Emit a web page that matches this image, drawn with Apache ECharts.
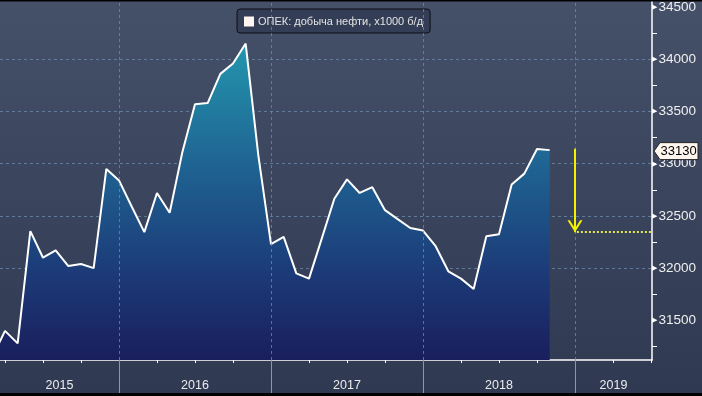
<!DOCTYPE html>
<html><head><meta charset="utf-8">
<script src="https://cdn.jsdelivr.net/npm/echarts@6/dist/echarts.min.js"></script>
<style>html,body{margin:0;padding:0;background:#000}#c{width:702px;height:396px}</style>
</head><body><div id="c"></div>
<script>
// ---- data ----
const months = ['2015-03','2015-04','2015-05','2015-06','2015-07','2015-08','2015-09','2015-10','2015-11','2015-12',
  '2016-01','2016-02','2016-03','2016-04','2016-05','2016-06','2016-07','2016-08','2016-09','2016-10','2016-11','2016-12',
  '2017-01','2017-02','2017-03','2017-04','2017-05','2017-06','2017-07','2017-08','2017-09','2017-10','2017-11','2017-12',
  '2018-01','2018-02','2018-03','2018-04','2018-05','2018-06','2018-07','2018-08','2018-09','2018-10','2018-11'];
const values = [31150,31400,31280,32355,32100,32170,32020,32040,32000,32950,
  32840,32590,32345,32720,32530,33110,33570,33580,33860,33960,34150,33080,
  32230,32300,31950,31900,32280,32665,32850,32720,32775,32555,32470,32385,
  32360,32210,31970,31900,31800,32305,32325,32800,32905,33140,33130];
const yTicks = [31500,32000,32500,33000,33500,34000,34500];
const yMinorTicks = [31250,31750,32250,32750,33250,33750,34250];
const years = ['2015','2016','2017','2018','2019'];
const seriesName = 'ОПЕК: добыча нефти, x1000 б/д';
const arrowFrom = 33143;
const arrowTo = 32345;

// ---- helpers ----
const baseYear = 2015;
const mi = s => { const p = s.split('-').map(Number); return (p[0]-baseYear)*12 + p[1]-1; };
const xMin = 2.605, xMax = 54.08;
const yMin = 31121, yMax = 34557;
const yearBounds = years.slice(1).map((y,i)=>(i+1)*12);
const yearMids = years.map((y,i)=>(Math.max(i*12,xMin)+Math.min(i*12+12,xMax))/2);
const quarterTicks = []; for (let q=3;q<=xMax;q+=3) quarterTicks.push(q);
const FONT = 'Liberation Sans, Arial, sans-serif';

const chart = echarts.init(document.getElementById('c'), null, {renderer:'canvas'});
const dashColor = 'rgba(110,140,175,0.75)';

chart.setOption({
  animation: false,
  backgroundColor: new echarts.graphic.LinearGradient(0,0,0,1,[{offset:0,color:'#455069'},{offset:1,color:'#2f3951'}]),
  textStyle: {fontFamily: FONT},
  grid: {left:0, right:50, top:0, bottom:36, containLabel:false},
  legend: {
    left: 237, top: 9,
    backgroundColor: '#333d55', borderColor: '#0d0f14', borderWidth: 1, borderRadius: 3,
    padding: [7,7,6,7],
    itemWidth: 10, itemHeight: 10, itemGap: 5, icon: 'rect',
    itemStyle: {color: '#fff5f0'},
    textStyle: {color: '#e4e4e4', fontSize: 11, fontFamily: FONT, padding:[0,0,0,-1]},
    data: [seriesName]
  },
  xAxis: [{
    type: 'value', min: xMin, max: xMax, position: 'bottom',
    axisLine: {show: true, lineStyle: {color: '#ffffff', width: 1.5}},
    axisTick: {show: true, customValues: quarterTicks, length: 3, lineStyle: {color: '#ffffff', width: 1}},
    axisLabel: {show: true, customValues: yearMids, margin: 19, color: '#ececec', fontSize: 12.5, fontFamily: FONT,
      formatter: v => years[Math.floor(v/12)]},
    splitLine: {show: false}
  },{
    type: 'value', min: xMin, max: xMax, position: 'bottom',
    axisLine: {show: false},
    axisTick: {show: true, customValues: yearBounds, length: 36, lineStyle: {color: '#8d96aa', width: 1}},
    axisLabel: {show: false},
    splitLine: {show: false}
  }],
  yAxis: [{
    type: 'value', position: 'right', min: yMin, max: yMax, z: 3,
    axisLine: {show: true, lineStyle: {color: '#ffffff', width: 1.5}},
    axisTick: {show: true, customValues: yTicks, length: 4, lineStyle: {color: '#ffffff', width: 1}},
    axisLabel: {show: true, customValues: yTicks, margin: 0, color: '#f0f0f0', fontFamily: FONT,
      formatter: v => '{t|▶}{v|' + v + '}',
      rich: {t: {fontSize: 7, color: '#ffffff', fontFamily: 'DejaVu Sans'}, v: {fontSize: 13.5, color: '#f0f0f0', fontFamily: FONT, padding:[0,0,0,1]}}},
    splitLine: {show: true, showMinLine: false, showMaxLine: false, lineStyle: {color: dashColor, type: [3,3], width: 1}}
  },{
    type: 'value', position: 'right', offset: 0, min: yMin, max: yMax, z: 3,
    axisLine: {show: false},
    axisTick: {show: true, customValues: yMinorTicks, length: 5, lineStyle: {color: '#ffffff', width: 1}},
    axisLabel: {show: false},
    splitLine: {show: false}
  }],
  series: [{
    name: seriesName, type: 'line', yAxisIndex: 0, xAxisIndex: 0,
    data: values.map((v,i)=>[mi(months[i]), v]),
    symbol: 'none', showSymbol: false,
    itemStyle: {color: '#ffffff'},
    lineStyle: {color: '#ffffff', width: 2},
    areaStyle: {opacity: 1, color: new echarts.graphic.LinearGradient(0,0,0,1,[
      {offset:0, color:'#2396ae'},{offset:0.38, color:'#1f6493'},{offset:0.72, color:'#1c3b78'},{offset:1, color:'#1a1e5d'}])},
    markLine: {
      silent: true, symbol: ['none','none'], animation: false,
      label: {show: false},
      data: yearBounds.map(b=>({xAxis: b, lineStyle: {color: dashColor, type: [3,3], width: 1}})).concat([
        [{coord:[48, arrowFrom], lineStyle:{color:'#f2f200', width:2, type:'solid'}},{coord:[48, arrowTo]}],
        [{coord:[48.15, arrowTo], lineStyle:{color:'#e8e84a', width:2, type:[2,2]}},{coord:[xMax, arrowTo]}]
      ])
    },
    markPoint: {
      silent: true, animation: false,
      symbol: 'path://M0,0 L5,10 L10,0 L8.4,0 L5,7 L1.6,0 Z',
      symbolSize: [15,12], symbolOffset: [0,'-50%'],
      itemStyle: {color: '#f2f200'},
      label: {show: false},
      data: [{coord:[48, arrowTo]}]
    }
  }]
});

const last = values[values.length-1];
const p = chart.convertToPixel({xAxisIndex:0, yAxisIndex:0}, [xMax, last]);
const x0 = p[0] + 2, yc = p[1] + 1;
chart.setOption({
  graphic: [
    {type:'rect', left:0, top:0, shape:{width:702, height:1.5}, style:{fill:'#000'}, z:100},
    {type:'rect', left:0, top:393, shape:{width:702, height:3}, style:{fill:'#000'}, z:100},
    {type:'polygon', z:100, shape:{points:[[x0,yc],[x0+6,yc-8.5],[x0+44,yc-8.5],[x0+44,yc+8.5],[x0+6,yc+8.5]]},
      style:{fill:'#fff6ef', stroke:'#222', lineWidth:1}},
    {type:'text', z:101, x:x0+6.5, y:yc, style:{text:String(last), fill:'#000', font:'13px Liberation Sans', verticalAlign:'middle', align:'left'}}
  ]
});
</script></body></html>
